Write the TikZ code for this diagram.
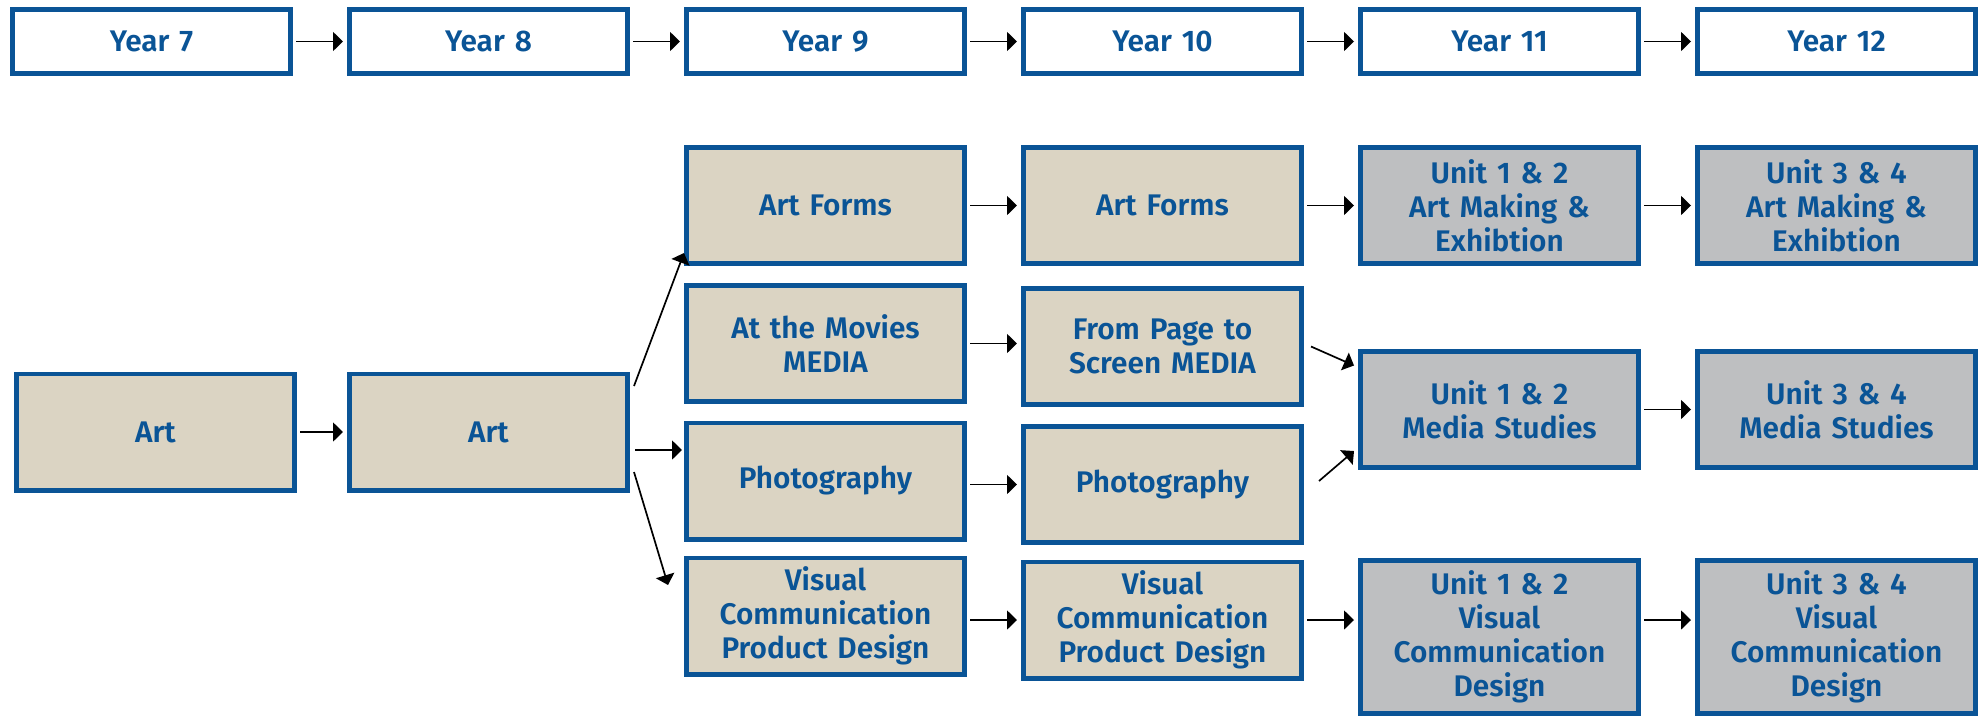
\documentclass[tikz,border=0pt]{standalone}
\usepackage{fontspec}
\setmainfont{Fira Sans}[BoldFont={Fira Sans SemiBold}]
\usetikzlibrary{calc}
\usetikzlibrary{positioning}
\usetikzlibrary{chains}
\usetikzlibrary{arrows.meta}
\definecolor{boxblue}{RGB}{10,84,150}
\definecolor{sandfill}{RGB}{219,212,195}
\definecolor{greyfill}{RGB}{190,191,193}
\tikzset{
	>={Triangle[length=5pt,width=9.5pt]},
	yearchain/.style={
		rectangle,
		draw=boxblue, line width=2.3pt,
		minimum width=139.2pt,
		minimum height=32.2pt,
		text width=134pt,
		inner sep=2pt,
		text centered,
		text=boxblue,
		font=\bfseries\fontsize{14.9}{17}\selectfont,
		on chain},
	subject/.style={
		rectangle,
		fill=sandfill,
		draw=boxblue, line width=2.3pt,
		minimum width=139.2pt,
		minimum height=58.2pt,
		text width=134pt,
		inner sep=2pt,
		text centered,
		text=boxblue,
		font=\bfseries\fontsize{14.9}{17}\selectfont},
	unit/.style={subject, fill=greyfill},
	line/.style={draw, ->, line width=0.85pt},
	link/.style={line, shorten <=1.5pt, shorten >=2pt},
	every join/.style={link},
}
\begin{document}
\begin{tikzpicture}
	[node distance=27pt,
	start chain=going right]
	\useasboundingbox (0,0) rectangle (993pt,-359pt);
	% years
	\node[yearchain] (year7) at (75.75pt,-20.75pt) {Year 7};
	\node[yearchain, join] (year8) {Year 8};
	\node[yearchain, join] (year9) {Year 9};
	\node[yearchain, join] (year10) {Year 10};
	\node[yearchain, join] (year11) {Year 11};
	\node[yearchain, join] (year12) {Year 12};

	% subjects
	\node[subject] (art7) at (77.75pt,-216pt) {Art};
	\node[subject] (art8) at (year8 |- art7) {Art};
	\node[subject] (forms9) at (year9 |- 0,-102.75pt) {Art Forms};
	\node[subject] (movies9) at (year9 |- 0,-171.75pt) {At the Movies\\MEDIA};
	\node[subject] (photo9) at (year9 |- 0,-240.5pt) {Photography};
	\node[subject] (vis9) at (year9 |- 0,-308pt) {Visual\\Communication\\Product Design};
	\node[subject] (forms10) at (year10 |- forms9) {Art Forms};
	\node[subject] (page10) at (year10 |- 0,-173.25pt) {From Page to\\Screen MEDIA};
	\node[subject] (photo10) at (year10 |- 0,-242.25pt) {Photography};
	\node[subject] (vis10) at (year10 |- 0,-310pt) {Visual\\Communication\\Product Design};
	\node[unit] (unitart11) at (year11 |- forms9) {Unit 1 \& 2\\Art Making \&\\Exhibtion};
	\node[unit] (media11) at (year11 |- 0,-204.75pt) {Unit 1 \& 2\\Media Studies};
	\node[unit, minimum height=76.7pt] (viscom11) at (year11 |- 0,-318.5pt) {Unit 1 \& 2\\Visual\\Communication\\Design};
	\node[unit] (unitart12) at (year12 |- forms9) {Unit 3 \& 4\\Art Making \&\\Exhibtion};
	\node[unit] (media12) at (year12 |- media11) {Unit 3 \& 4\\Media Studies};
	\node[unit, minimum height=76.7pt] (viscom12) at (year12 |- viscom11) {Unit 3 \& 4\\Visual\\Communication\\Design};

	% pathways
	\draw[link] (art7) -- (art8);
	\draw[line] ($(art8.east)+(2pt,23pt)$) -- ($(forms9.west)+(0,-23.75pt)$);
	\draw[line] ($(art8.east)+(2.5pt,-9pt)$) -- ($(art8.east -| photo9.west)+(-1pt,-9pt)$);
	\draw[line] ($(art8.east)+(2pt,-20pt)$) -- ($(vis9.west)+(-8pt,15.5pt)$);
	\draw[link] (forms9) -- (forms10);
	\draw[link] (movies9.east) -- (movies9.east -| page10.west);
	\draw[link] (photo10.west -| photo9.east) -- (photo10.west);
	\draw[link] (vis10.west -| vis9.east) -- (vis10.west);
	\draw[link] (forms10) -- (unitart11);
	\draw[line] ($(page10.east)+(3.5pt,0)$) -- ($(media11.west)+(-2pt,22pt)$);
	\draw[line] ($(photo10.east)+(7.5pt,1.75pt)$) -- ($(media11.west)+(-2pt,-20.75pt)$);
	\draw[link] (vis10.east) -- (vis10.east -| viscom11.west);
	\draw[link] (unitart11) -- (unitart12);
	\draw[link] (media11) -- (media12);
	\draw[link] (vis10.east -| viscom11.east) -- (vis10.east -| viscom12.west);
\end{tikzpicture}
\end{document}
